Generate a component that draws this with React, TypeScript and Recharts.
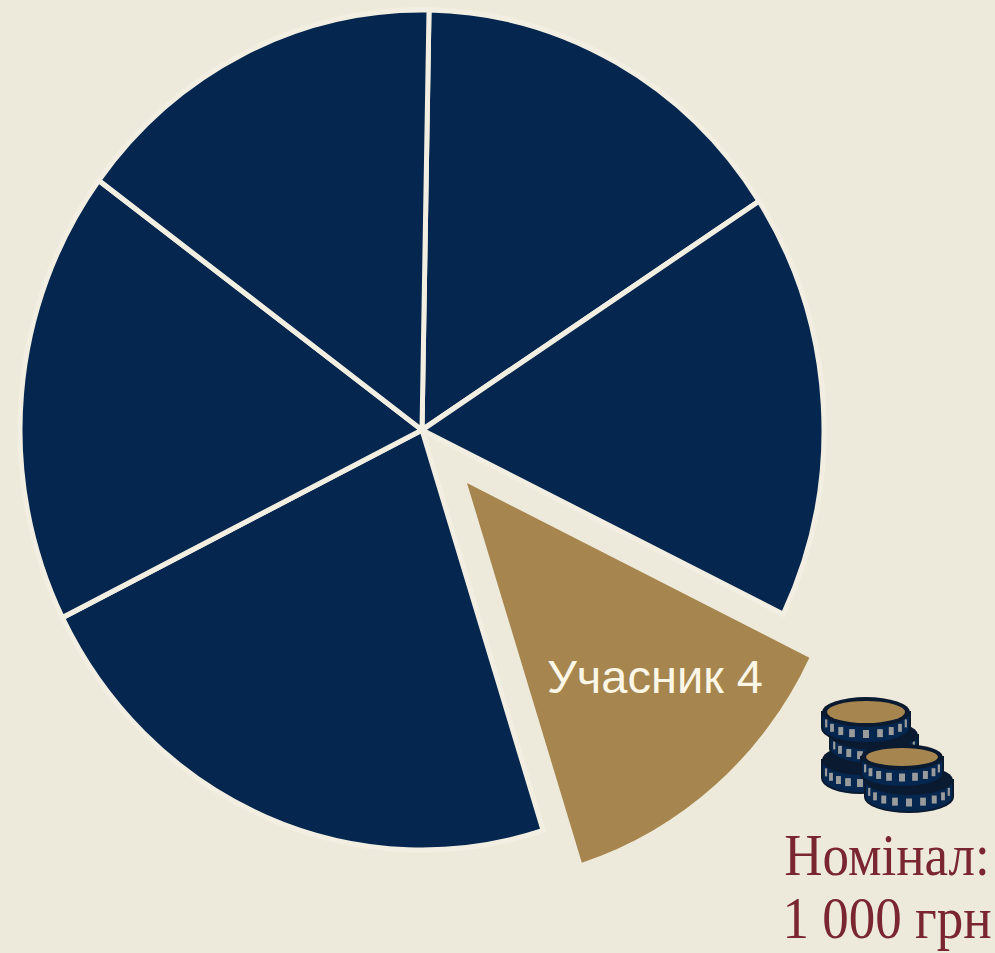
import { PieChart, Pie, Cell, Sector } from 'recharts'

const participants = ['Учасник 1', 'Учасник 2', 'Учасник 4', 'Учасник 3', 'Учасник 5', 'Учасник 6']
const shares = [15.55, 16.4, 12.9, 22.5, 17.5, 15.15]
const highlighted = 'Учасник 4'
const noteLines = ['Номінал:', '1 000 грн']

const pieData = participants.map((name, i) => ({ name, value: shares[i] }))

const BG = '#eeeadb'
const NAVY = '#05264e'
const GOLD = '#a6864e'
const WINE = '#7a2630'
const DIVIDER = '#f2efe2'
// the picture is slightly taller than wide
const STRETCH = 1.045

function Slice(props: any) {
  const { cx, cy, name } = props
  const isOut = name === highlighted
  const dx = isOut ? 45 : 0
  const dy = isOut ? 53 : 0
  return (
    <g>
      <g transform={`translate(${cx + dx} ${cy + dy}) scale(1 ${STRETCH}) translate(${-cx} ${-cy})`}>
        <Sector
          {...props}
          outerRadius={isOut ? 381 : 402}
          stroke={isOut ? 'none' : DIVIDER}
          strokeWidth={isOut ? 0 : 5}
        />
      </g>
      {isOut && (
        <text
          x={cx + 233}
          y={cy + 263}
          textAnchor="middle"
          fill="#fbf6e6"
          fontFamily="Liberation Sans"
          fontSize={47}
        >
          {name}
        </text>
      )}
    </g>
  )
}

function Coin({ cx, cy, rx, ry, h, top = true }: { cx: number; cy: number; rx: number; ry: number; h: number; top?: boolean }) {
  const ticks = [14, 34, 52, 70, 90, 110, 128, 146, 166]
  return (
    <g>
      <path
        d={`M${cx - rx} ${cy} L${cx - rx} ${cy + h} A${rx} ${ry} 0 0 0 ${cx + rx} ${cy + h} L${cx + rx} ${cy} Z`}
        fill={NAVY}
        stroke="#0a1a30"
        strokeWidth={2}
      />
      {ticks.map((t) => {
        const a = (t * Math.PI) / 180
        const w = 1 + 5 * Math.sin(a)
        return (
          <rect
            key={t}
            x={cx + (rx - 3) * Math.cos(a) - w / 2}
            y={cy + h * 0.5 + (ry - 1) * Math.sin(a) - 4}
            width={w}
            height={8}
            fill="#9a9c9c"
          />
        )
      })}
      <ellipse cx={cx} cy={cy} rx={rx} ry={ry} fill="#0a1a30" />
      {top && <ellipse cx={cx} cy={cy} rx={rx - 5} ry={ry - 4} fill={GOLD} />}
    </g>
  )
}

export default function App() {
  return (
    <div style={{ position: 'absolute', left: 0, top: 0, width: 995, height: 953, background: BG, overflow: 'hidden' }}>
      <PieChart width={995} height={953} margin={{ top: 0, right: 0, bottom: 0, left: 0 }}>
        <Pie
          data={pieData}
          dataKey="value"
          nameKey="name"
          cx={422}
          cy={430}
          outerRadius={402}
          startAngle={89}
          endAngle={-271}
          shape={Slice}
          isAnimationActive={false}
        >
          {pieData.map((entry) => (
            <Cell key={entry.name} fill={entry.name === highlighted ? GOLD : NAVY} />
          ))}
        </Pie>
      </PieChart>
      <svg width={995} height={953} style={{ position: 'absolute', left: 0, top: 0 }}>
        <Coin cx={860} cy={760} rx={38} ry={15} h={18} top={false} />
        <Coin cx={874} cy={735} rx={44} ry={15} h={14} top={false} />
        <Coin cx={866} cy={712} rx={44} ry={15} h={16} />
        <Coin cx={909} cy={780} rx={44} ry={15} h={17} top={false} />
        <Coin cx={902} cy={757} rx={41} ry={13} h={17} />
        {noteLines.map((line, i) => (
          <text
            key={line}
            transform={`translate(887 ${875 + i * 63}) scale(1 1.1)`}
            textAnchor="middle"
            fill={WINE}
            fontFamily="Liberation Serif"
            fontSize={53}
          >
            {line}
          </text>
        ))}
      </svg>
    </div>
  )
}
